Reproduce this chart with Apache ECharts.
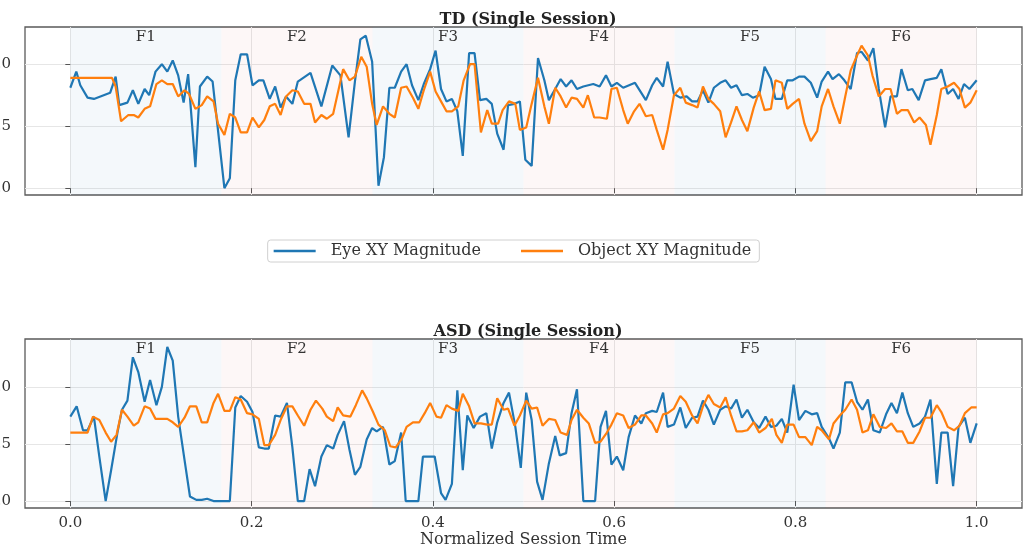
<!DOCTYPE html>
<html>
<head>
<meta charset="utf-8">
<script src="https://cdn.jsdelivr.net/npm/echarts@6/dist/echarts.min.js"></script>
<style>
html,body{margin:0;padding:0;background:#fff;}
#chart{width:1025px;height:544px;}
</style>
</head>
<body>
<div id="chart"></div>
<script>
// ---------- data ----------
var phaseEdges = [0, 1/6, 2/6, 3/6, 4/6, 5/6, 1];
var phaseNames = ['F1', 'F2', 'F3', 'F4', 'F5', 'F6'];
var xTicks = [0, 0.2, 0.4, 0.6, 0.8, 1.0];
var yTicks = [0, 0.5, 1.0];

var tdEyeT = [0,0.0066,0.011,0.019,0.026,0.044,0.05,0.054,0.063,0.069,0.075,0.082,0.087,0.094,0.101,0.107,0.113,0.119,0.125,0.13,0.138,0.143,0.151,0.157,0.17,0.176,0.182,0.188,0.195,0.201,0.208,0.213,0.22,0.226,0.232,0.238,0.245,0.251,0.265,0.277,0.289,0.298,0.307,0.314,0.32,0.326,0.333,0.34,0.346,0.352,0.358,0.365,0.371,0.377,0.384,0.39,0.397,0.403,0.409,0.415,0.421,0.427,0.433,0.44,0.446,0.452,0.459,0.465,0.471,0.478,0.483,0.49,0.496,0.502,0.509,0.516,0.523,0.528,0.535,0.541,0.547,0.553,0.559,0.566,0.577,0.584,0.591,0.597,0.603,0.61,0.623,0.635,0.642,0.647,0.654,0.659,0.666,0.673,0.68,0.686,0.692,0.698,0.704,0.71,0.717,0.723,0.729,0.735,0.741,0.747,0.753,0.76,0.766,0.773,0.778,0.785,0.791,0.797,0.804,0.81,0.817,0.824,0.829,0.836,0.841,0.848,0.854,0.861,0.868,0.873,0.88,0.886,0.892,0.899,0.905,0.912,0.917,0.924,0.929,0.936,0.943,0.949,0.956,0.961,0.968,0.974,0.98,0.986,0.992,1.0];
var tdEyeV = [0.81,0.94,0.83,0.73,0.72,0.77,0.9,0.67,0.69,0.79,0.68,0.8,0.75,0.94,1.0,0.94,1.03,0.91,0.69,0.92,0.17,0.82,0.9,0.86,0.0,0.08,0.87,1.08,1.08,0.83,0.87,0.87,0.72,0.82,0.65,0.74,0.68,0.86,0.93,0.66,0.99,0.91,0.41,0.86,1.2,1.23,1.02,0.02,0.25,0.81,0.81,0.94,1.0,0.83,0.71,0.84,0.96,1.11,0.8,0.7,0.72,0.62,0.26,1.09,1.09,0.71,0.72,0.68,0.44,0.31,0.67,0.68,0.7,0.23,0.18,1.05,0.87,0.71,0.8,0.88,0.82,0.87,0.8,0.82,0.84,0.82,0.91,0.82,0.85,0.81,0.85,0.71,0.83,0.89,0.82,1.02,0.76,0.73,0.74,0.7,0.7,0.79,0.69,0.81,0.85,0.87,0.81,0.83,0.75,0.76,0.73,0.75,0.98,0.88,0.72,0.72,0.87,0.87,0.9,0.9,0.85,0.73,0.86,0.94,0.88,0.92,0.87,0.8,1.09,1.1,1.03,1.13,0.8,0.49,0.74,0.74,0.96,0.79,0.8,0.71,0.87,0.88,0.89,0.96,0.76,0.8,0.72,0.84,0.8,0.87];

var tdObjT = [0,0.046,0.05,0.056,0.064,0.07,0.075,0.082,0.088,0.095,0.101,0.107,0.113,0.119,0.126,0.131,0.138,0.145,0.151,0.158,0.163,0.17,0.176,0.182,0.188,0.195,0.201,0.208,0.214,0.22,0.226,0.232,0.238,0.245,0.251,0.258,0.265,0.27,0.277,0.283,0.29,0.301,0.308,0.314,0.321,0.327,0.333,0.338,0.345,0.352,0.358,0.365,0.371,0.378,0.384,0.39,0.397,0.403,0.409,0.415,0.421,0.428,0.434,0.441,0.446,0.453,0.46,0.465,0.472,0.477,0.484,0.491,0.496,0.503,0.509,0.516,0.523,0.528,0.535,0.541,0.547,0.553,0.559,0.566,0.571,0.578,0.584,0.592,0.597,0.603,0.61,0.615,0.622,0.628,0.635,0.642,0.647,0.654,0.659,0.666,0.673,0.679,0.686,0.692,0.698,0.704,0.71,0.717,0.723,0.729,0.735,0.741,0.747,0.754,0.76,0.766,0.773,0.778,0.785,0.791,0.797,0.804,0.81,0.817,0.824,0.829,0.836,0.842,0.849,0.855,0.861,0.868,0.873,0.88,0.885,0.892,0.899,0.905,0.912,0.917,0.924,0.931,0.937,0.944,0.949,0.956,0.961,0.968,0.975,0.981,0.987,0.993,1.0];
var tdObjV = [0.89,0.89,0.82,0.54,0.59,0.59,0.57,0.64,0.66,0.84,0.87,0.84,0.84,0.74,0.79,0.76,0.64,0.67,0.74,0.7,0.52,0.43,0.6,0.57,0.45,0.45,0.57,0.49,0.55,0.66,0.68,0.59,0.74,0.79,0.78,0.68,0.68,0.53,0.59,0.56,0.6,0.96,0.87,0.9,1.06,0.98,0.68,0.51,0.66,0.6,0.57,0.81,0.82,0.73,0.64,0.79,0.94,0.78,0.7,0.62,0.62,0.66,0.87,1.0,1.0,0.45,0.63,0.52,0.52,0.63,0.7,0.68,0.47,0.49,0.68,0.89,0.66,0.52,0.81,0.74,0.65,0.73,0.72,0.65,0.75,0.57,0.57,0.56,0.8,0.81,0.63,0.52,0.62,0.68,0.58,0.59,0.47,0.31,0.47,0.75,0.81,0.69,0.67,0.65,0.82,0.72,0.68,0.62,0.41,0.53,0.66,0.55,0.46,0.65,0.78,0.63,0.64,0.87,0.85,0.64,0.68,0.72,0.52,0.38,0.46,0.66,0.8,0.66,0.52,0.74,0.95,1.07,1.15,1.07,0.91,0.74,0.8,0.8,0.6,0.63,0.63,0.53,0.57,0.51,0.35,0.59,0.8,0.82,0.85,0.8,0.65,0.69,0.79];

var asdEyeT = [0,0.007,0.014,0.019,0.026,0.032,0.039,0.045,0.052,0.057,0.063,0.069,0.075,0.082,0.088,0.095,0.101,0.107,0.113,0.119,0.126,0.132,0.139,0.145,0.151,0.158,0.164,0.17,0.176,0.182,0.188,0.195,0.201,0.208,0.214,0.219,0.226,0.232,0.239,0.245,0.251,0.258,0.264,0.27,0.277,0.283,0.29,0.295,0.302,0.308,0.314,0.32,0.327,0.333,0.338,0.345,0.352,0.358,0.365,0.37,0.377,0.384,0.389,0.396,0.402,0.409,0.414,0.421,0.427,0.433,0.438,0.445,0.452,0.459,0.465,0.471,0.478,0.484,0.491,0.497,0.503,0.509,0.515,0.521,0.528,0.535,0.54,0.547,0.553,0.559,0.566,0.571,0.579,0.585,0.591,0.597,0.603,0.61,0.616,0.623,0.63,0.635,0.642,0.647,0.654,0.659,0.666,0.673,0.679,0.686,0.692,0.698,0.704,0.71,0.717,0.723,0.729,0.735,0.741,0.747,0.754,0.76,0.767,0.773,0.779,0.785,0.791,0.798,0.804,0.811,0.818,0.824,0.829,0.837,0.842,0.849,0.855,0.862,0.868,0.874,0.88,0.886,0.893,0.9,0.906,0.912,0.918,0.924,0.93,0.937,0.943,0.949,0.956,0.961,0.968,0.974,0.98,0.987,0.993,1.0];
var asdEyeV = [0.74,0.83,0.62,0.62,0.74,0.39,0.0,0.27,0.6,0.8,0.88,1.26,1.13,0.87,1.06,0.84,1.0,1.35,1.23,0.74,0.36,0.04,0.01,0.01,0.02,0.0,0.0,0.0,0.0,0.82,0.92,0.87,0.78,0.47,0.46,0.46,0.75,0.74,0.86,0.47,0.0,0.0,0.28,0.13,0.39,0.49,0.46,0.58,0.7,0.45,0.23,0.3,0.54,0.64,0.61,0.65,0.32,0.35,0.6,0.0,0.0,0.0,0.39,0.39,0.39,0.07,0.01,0.15,0.97,0.27,0.75,0.64,0.74,0.77,0.46,0.69,0.86,0.95,0.65,0.29,0.95,0.71,0.17,0.01,0.33,0.57,0.4,0.42,0.77,0.98,0.0,0.0,0.0,0.65,0.79,0.32,0.39,0.27,0.56,0.75,0.68,0.77,0.79,0.78,0.95,0.65,0.67,0.82,0.64,0.73,0.74,0.88,0.8,0.67,0.8,0.83,0.81,0.89,0.73,0.8,0.69,0.64,0.74,0.65,0.66,0.72,0.6,1.02,0.71,0.79,0.76,0.77,0.65,0.55,0.46,0.6,1.04,1.04,0.87,0.8,0.89,0.62,0.6,0.76,0.86,0.77,0.95,0.77,0.65,0.68,0.74,0.89,0.15,0.6,0.6,0.13,0.65,0.73,0.51,0.68];

var asdObjT = [0,0.019,0.025,0.032,0.039,0.045,0.051,0.057,0.063,0.07,0.075,0.082,0.088,0.094,0.101,0.107,0.113,0.119,0.126,0.132,0.139,0.145,0.151,0.158,0.163,0.17,0.176,0.182,0.188,0.195,0.201,0.208,0.214,0.219,0.226,0.232,0.239,0.245,0.251,0.258,0.265,0.271,0.278,0.283,0.29,0.295,0.301,0.309,0.315,0.322,0.327,0.334,0.34,0.347,0.353,0.359,0.366,0.371,0.378,0.385,0.391,0.397,0.404,0.409,0.415,0.421,0.428,0.433,0.44,0.446,0.453,0.46,0.465,0.471,0.478,0.483,0.49,0.496,0.503,0.509,0.515,0.521,0.528,0.535,0.541,0.548,0.553,0.559,0.566,0.572,0.579,0.585,0.592,0.597,0.603,0.61,0.616,0.623,0.63,0.635,0.642,0.647,0.654,0.659,0.666,0.673,0.679,0.686,0.692,0.698,0.704,0.71,0.717,0.723,0.729,0.735,0.741,0.747,0.754,0.76,0.767,0.774,0.779,0.785,0.791,0.798,0.804,0.811,0.818,0.824,0.829,0.837,0.842,0.849,0.855,0.862,0.868,0.874,0.88,0.886,0.893,0.9,0.906,0.912,0.918,0.924,0.93,0.937,0.943,0.949,0.956,0.961,0.968,0.975,0.981,0.987,0.994,1.0];
var asdObjV = [0.6,0.6,0.74,0.71,0.6,0.52,0.58,0.8,0.74,0.66,0.69,0.83,0.81,0.72,0.72,0.72,0.69,0.65,0.73,0.83,0.83,0.69,0.69,0.86,0.94,0.79,0.79,0.91,0.89,0.77,0.76,0.72,0.49,0.49,0.58,0.71,0.83,0.83,0.75,0.66,0.8,0.88,0.81,0.74,0.7,0.82,0.75,0.74,0.84,0.97,0.9,0.78,0.67,0.62,0.48,0.47,0.55,0.65,0.69,0.69,0.77,0.86,0.74,0.73,0.84,0.81,0.79,0.94,0.83,0.68,0.68,0.67,0.67,0.9,0.8,0.81,0.66,0.75,0.88,0.81,0.82,0.66,0.72,0.71,0.6,0.58,0.71,0.8,0.73,0.68,0.51,0.52,0.6,0.67,0.77,0.75,0.64,0.67,0.75,0.75,0.68,0.6,0.76,0.77,0.81,0.92,0.87,0.75,0.68,0.83,0.93,0.85,0.82,0.91,0.75,0.61,0.61,0.62,0.69,0.6,0.64,0.72,0.58,0.51,0.67,0.67,0.56,0.56,0.49,0.65,0.62,0.54,0.68,0.75,0.8,0.89,0.8,0.6,0.62,0.76,0.65,0.64,0.68,0.61,0.61,0.51,0.51,0.61,0.73,0.73,0.84,0.78,0.65,0.62,0.66,0.77,0.82,0.82];

// ---------- helpers ----------
function pairs(t, v) { return t.map(function (x, i) { return [x, v[i]]; }); }
var FONT = 'DejaVu Serif';
var BLUE = '#1f77b4', ORANGE = '#ff7f0e';
var shadeColors = ['rgba(31,119,180,0.05)', 'rgba(214,39,40,0.04)'];

function phaseAreas() {
  return phaseNames.map(function (n, i) {
    return [{ name: n, xAxis: phaseEdges[i], itemStyle: { color: shadeColors[i % 2] } },
            { xAxis: phaseEdges[i + 1] }];
  });
}

function xAxisCfg(gridIndex, showLabels) {
  return {
    type: 'value', gridIndex: gridIndex, min: -0.05, max: 1.05,
    axisLine: { show: false },
    axisTick: { show: true, length: 5, inside: false, customValues: xTicks, lineStyle: { color: '#555', width: 1 } },
    axisLabel: { show: showLabels, customValues: xTicks, margin: 8, fontFamily: FONT, fontSize: 15, color: '#333',
                 formatter: function (v) { return v.toFixed(1); } },
    splitLine: { show: true, lineStyle: { color: '#e6e6e6', width: 1 } },
    name: showLabels ? 'Normalized Session Time' : '',
    nameLocation: 'middle', nameGap: 22,
    nameTextStyle: { fontFamily: FONT, fontSize: 16, color: '#333' }
  };
}
function yAxisCfg(gridIndex, min, max) {
  return {
    type: 'value', gridIndex: gridIndex, min: min, max: max,
    axisLine: { show: false },
    axisTick: { show: true, length: 5, customValues: yTicks, lineStyle: { color: '#555', width: 1 } },
    axisLabel: { show: true, customValues: yTicks, margin: 14, fontFamily: FONT, fontSize: 15, color: '#333',
                 formatter: function (v) { return v.toFixed(1); } },
    splitLine: { show: true, lineStyle: { color: '#e6e6e6', width: 1 } }
  };
}
function lineSeries(name, color, data, xi, withAreas) {
  var s = {
    name: name, type: 'line', xAxisIndex: xi, yAxisIndex: xi, data: data,
    showSymbol: false, symbol: 'none', smooth: false, animation: false,
    lineStyle: { color: color, width: 2.2 }, itemStyle: { color: color }
  };
  if (withAreas) {
    s.markArea = {
      silent: true,
      label: { show: true, position: 'insideTop', distance: 3, fontFamily: FONT, fontSize: 15, color: '#333' },
      data: phaseAreas()
    };
  }
  return s;
}

var chart = echarts.init(document.getElementById('chart'), null, { renderer: 'canvas' });
chart.setOption({
  backgroundColor: '#fff',
  animation: false,
  title: [
    { text: 'TD (Single Session)', left: 523, top: 7, textAlign: 'center',
      textStyle: { fontFamily: FONT, fontWeight: 'bold', fontSize: 16, color: '#222' } },
    { text: 'ASD (Single Session)', left: 523, top: 319, textAlign: 'center',
      textStyle: { fontFamily: FONT, fontWeight: 'bold', fontSize: 16, color: '#222' } }
  ],
  legend: {
    data: ['Eye XY Magnitude', 'Object XY Magnitude'],
    left: 'center', top: 240,
    icon: 'rect', itemWidth: 42, itemHeight: 2.5, itemGap: 40,
    padding: [3, 8, 3, 6],
    borderColor: '#d0d0d0', borderWidth: 1, borderRadius: 3,
    textStyle: { fontFamily: FONT, fontSize: 16, color: '#333', padding: [0, 0, 0, 10] }
  },
  grid: [
    { left: 25, right: 3, top: 27, height: 168, show: true, borderColor: '#5a5a5a', borderWidth: 1.3,
      backgroundColor: '#fff', outerBoundsMode: 'none', containLabel: false },
    { left: 25, right: 3, top: 339, height: 169, show: true, borderColor: '#5a5a5a', borderWidth: 1.3,
      backgroundColor: '#fff', outerBoundsMode: 'none', containLabel: false }
  ],
  xAxis: [xAxisCfg(0, false), xAxisCfg(1, true)],
  yAxis: [yAxisCfg(0, -0.055, 1.30), yAxisCfg(1, -0.061, 1.42)],
  series: [
    lineSeries('Eye XY Magnitude', BLUE, pairs(tdEyeT, tdEyeV), 0, true),
    lineSeries('Object XY Magnitude', ORANGE, pairs(tdObjT, tdObjV), 0, false),
    lineSeries('Eye XY Magnitude', BLUE, pairs(asdEyeT, asdEyeV), 1, true),
    lineSeries('Object XY Magnitude', ORANGE, pairs(asdObjT, asdObjV), 1, false)
  ]
});
</script>
</body>
</html>
